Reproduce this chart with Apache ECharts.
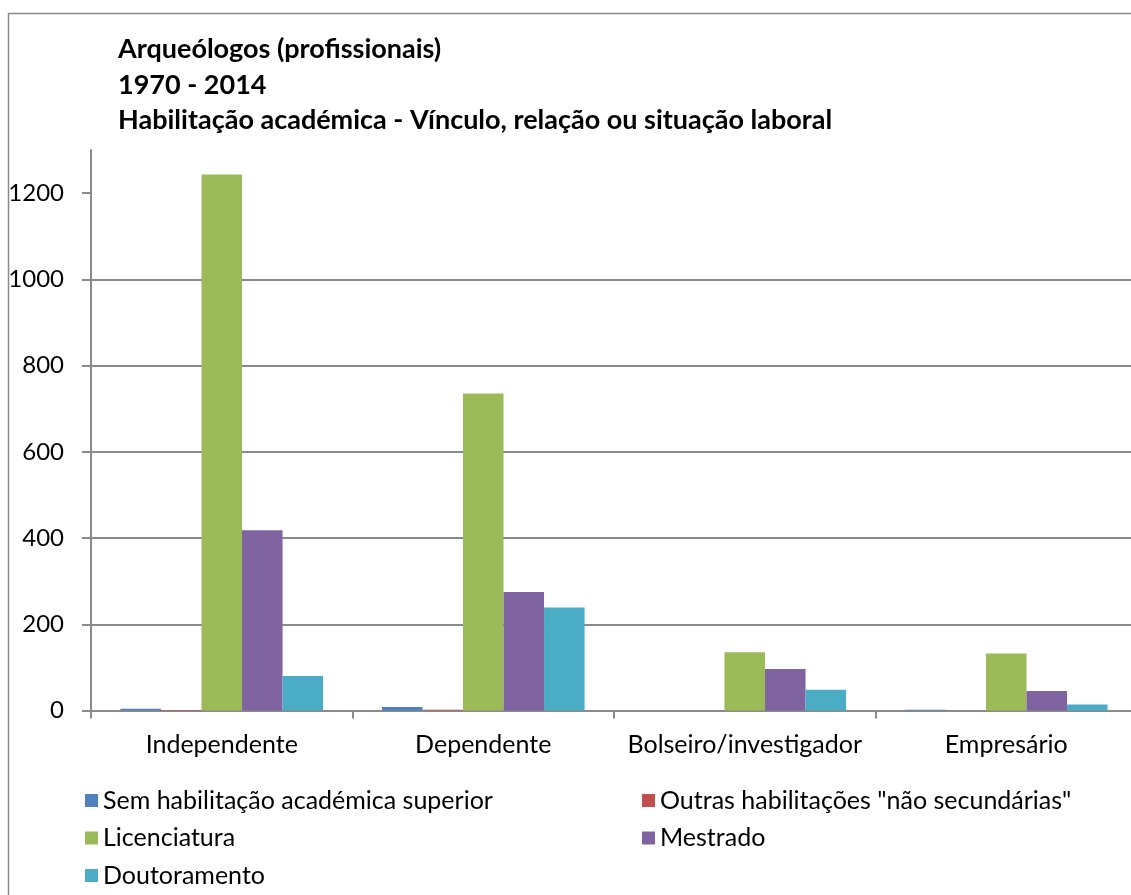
<!DOCTYPE html>
<html>
<head>
<meta charset="utf-8">
<script src="https://cdn.jsdelivr.net/npm/echarts@6/dist/echarts.min.js"></script>
<style>
  html, body { margin: 0; padding: 0; background: #fff; overflow: hidden; }
  #chart { width: 1137px; height: 895px; }
</style>
</head>
<body>
<div id="chart"></div>
<script>
// Categories (employment relation) and values per academic qualification
const categories = ['Independente', 'Dependente', 'Bolseiro/investigador', 'Empresário'];
const seriesNames = [
  'Sem habilitação académica superior',
  'Outras habilitações "não secundárias"',
  'Licenciatura',
  'Mestrado',
  'Doutoramento'
];
const semHabilitacao = [4, 8, 0, 2];
const outrasHabilitacoes = [1, 2, 0, 0];
const licenciatura = [1243, 735, 135, 132];
const mestrado = [418, 275, 96, 45];
const doutoramento = [80, 239, 48, 14];
const yTicks = [0, 200, 400, 600, 800, 1000, 1200];

const colors = ['#4F81BD', '#C0504D', '#9BBB59', '#8064A2', '#4BACC6'];
const seriesData = [semHabilitacao, outrasHabilitacoes, licenciatura, mestrado, doutoramento];
const FONT = 'Lato, "Noto Sans", sans-serif';
const GRID_COLOR = '#8a8a8a';

const chart = echarts.init(document.getElementById('chart'), null, { renderer: 'canvas' });

const legendText = { fontFamily: FONT, fontSize: 25, lineHeight: 24, color: '#000' };

chart.setOption({
  backgroundColor: '#ffffff',
  animation: false,
  color: colors,
  title: {
    text: 'Arqueólogos (profissionais)\n1970 - 2014\nHabilitação académica - Vínculo, relação ou situação laboral',
    left: 113,
    top: 27,
    textStyle: {
      fontFamily: FONT,
      fontWeight: 'bold',
      fontSize: 27,
      lineHeight: 35.5,
      color: '#000'
    }
  },
  graphic: [{
    type: 'rect',
    shape: { x: 8.5, y: 13.5, width: 1140, height: 900 },
    style: { fill: 'none', stroke: GRID_COLOR, lineWidth: 1.5 },
    silent: true,
    z: -1
  }],
  legend: [
    {
      data: [seriesNames[0], seriesNames[2], seriesNames[4]],
      orient: 'vertical',
      left: 80,
      top: 783,
      itemWidth: 13,
      itemHeight: 13,
      itemGap: 12.5,
      icon: 'rect',
      textStyle: legendText
    },
    {
      data: [seriesNames[1], seriesNames[3]],
      orient: 'vertical',
      left: 637,
      top: 783,
      itemWidth: 13,
      itemHeight: 13,
      itemGap: 12.5,
      icon: 'rect',
      textStyle: legendText
    }
  ],
  grid: {
    left: 91,
    right: 0,
    top: 150,
    bottom: 184.5,
    containLabel: false
  },
  xAxis: {
    type: 'category',
    data: categories,
    axisLine: { show: true, lineStyle: { color: GRID_COLOR, width: 2 } },
    axisTick: { show: true, interval: 0, length: 8, lineStyle: { color: GRID_COLOR, width: 2 } },
    axisLabel: { interval: 0, fontFamily: FONT, fontSize: 25, color: '#000', margin: 22 },
    splitLine: { show: false }
  },
  yAxis: {
    type: 'value',
    min: 0,
    max: 1300,
    interval: 200,
    axisLine: { show: true, lineStyle: { color: GRID_COLOR, width: 2 } },
    axisTick: {
      show: true,
      length: 9,
      customValues: yTicks,
      lineStyle: { color: GRID_COLOR, width: 2 }
    },
    axisLabel: {
      fontFamily: FONT,
      fontSize: 24,
      color: '#000',
      margin: 27,
      customValues: yTicks,
      formatter: (v) => String(v)
    },
    splitLine: {
      show: true,
      showMaxLine: false,
      lineStyle: { color: GRID_COLOR, width: 2 }
    }
  },
  series: seriesNames.map((name, i) => ({
    name: name,
    type: 'bar',
    data: seriesData[i],
    barGap: '0%',
    barCategoryGap: '22.5%',
    itemStyle: { color: colors[i] }
  }))
});
</script>
</body>
</html>
